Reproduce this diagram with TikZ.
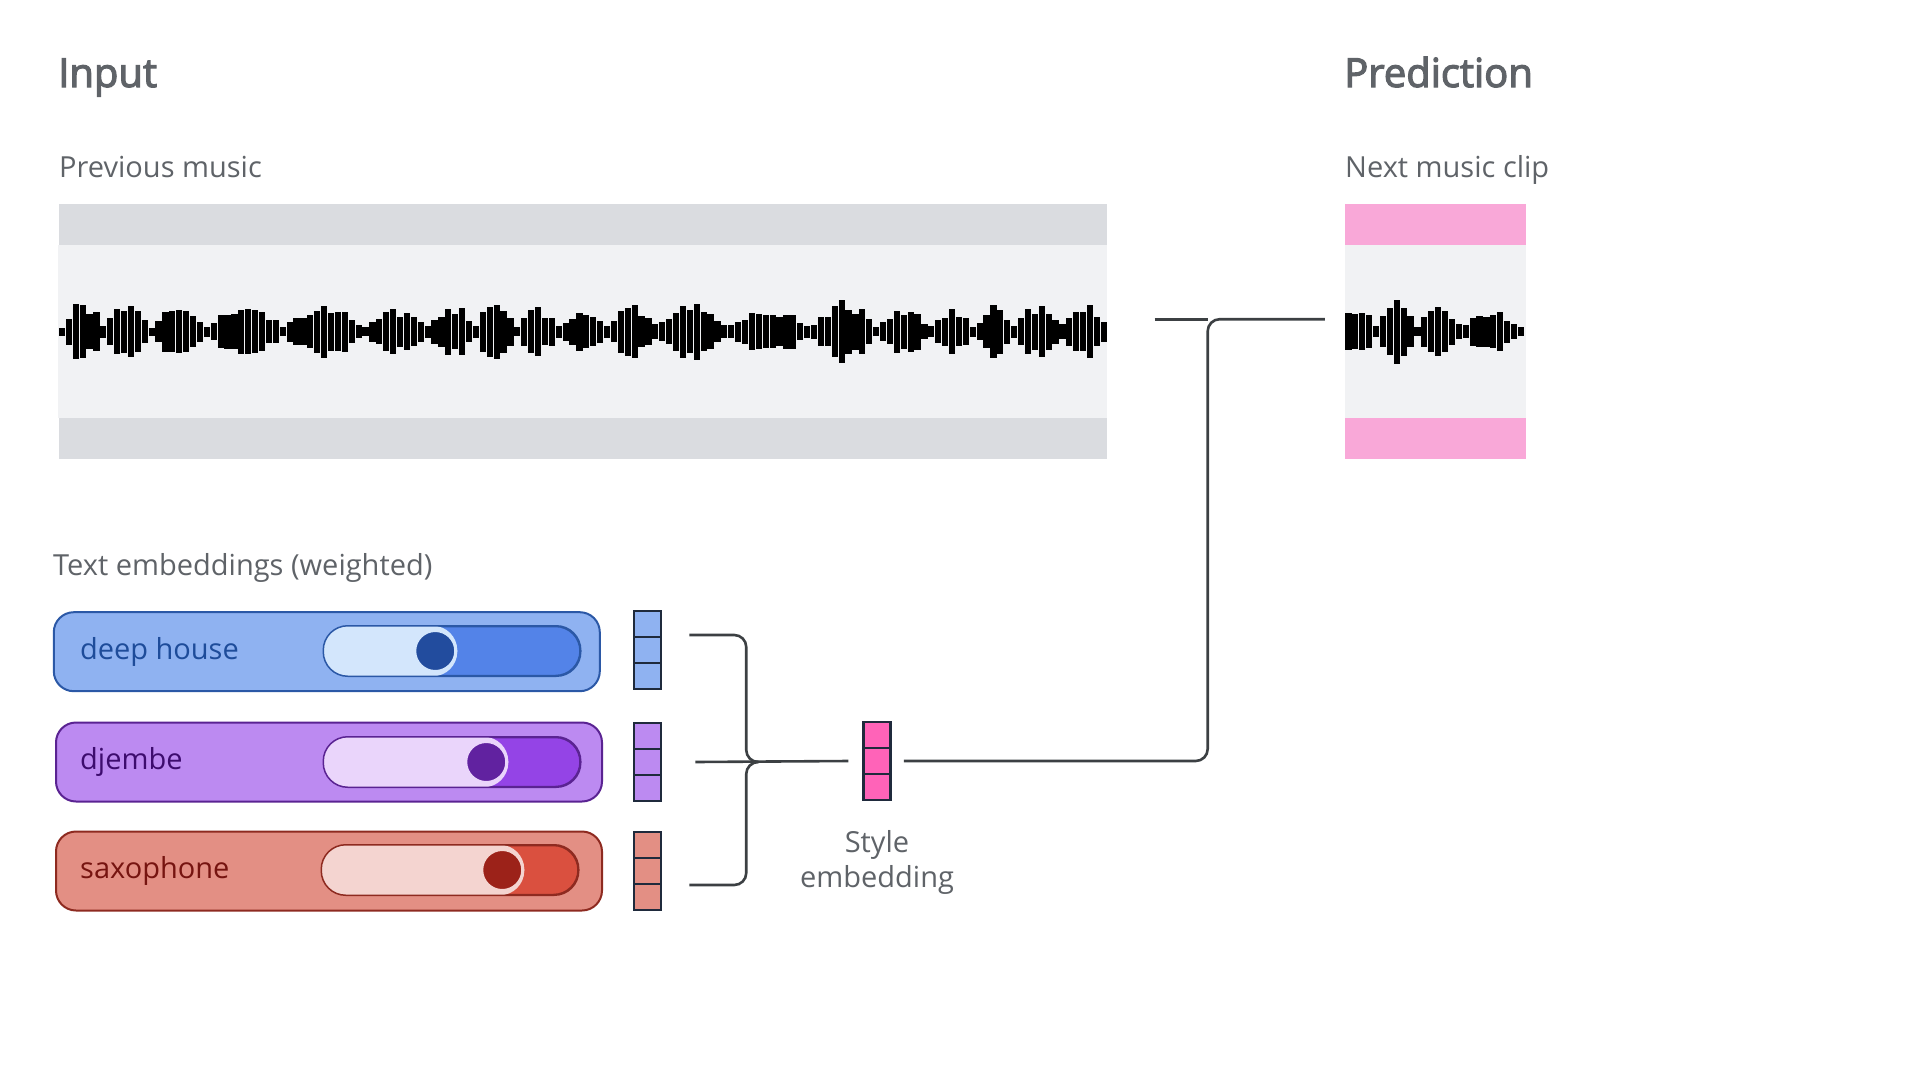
\documentclass[tikz,border=0pt]{standalone}
\usepackage{fontspec}
\setmainfont{Open Sans}
\newfontfamily\headfont[FakeBold=3]{Open Sans}
\usetikzlibrary{calc,positioning}

\definecolor{txtgray}{HTML}{5F6368}
\definecolor{linegray}{HTML}{3C4043}
\definecolor{banddark}{HTML}{DADCE0}
\definecolor{bandlight}{HTML}{F1F2F4}
\definecolor{clippink}{HTML}{F9A8D8}
\definecolor{vecline}{HTML}{1F2A3C}
\definecolor{stylepink}{HTML}{FF63B8}
% deep house
\definecolor{dhfill}{HTML}{8FB2F1}
\definecolor{dhline}{HTML}{2B58A6}
\definecolor{dhlight}{HTML}{D3E6FC}
\definecolor{dhdark}{HTML}{5383E8}
\definecolor{dhknob}{HTML}{224C9E}
\definecolor{dhtext}{HTML}{1E4C9A}
% djembe
\definecolor{djfill}{HTML}{BC8AF1}
\definecolor{djline}{HTML}{5A2392}
\definecolor{djlight}{HTML}{EAD5FB}
\definecolor{djdark}{HTML}{9444E6}
\definecolor{djknob}{HTML}{6122A0}
\definecolor{djtext}{HTML}{3D0C6E}
% saxophone
\definecolor{sxfill}{HTML}{E38F84}
\definecolor{sxline}{HTML}{8E2A20}
\definecolor{sxlight}{HTML}{F4D4D0}
\definecolor{sxdark}{HTML}{DA503F}
\definecolor{sxknob}{HTML}{9C2219}
\definecolor{sxtext}{HTML}{761410}

\begin{document}
\begin{tikzpicture}[x=1pt,y=-1pt,
  heading/.style={anchor=base west,inner sep=0,text=txtgray,font=\headfont\fontsize{40}{48}\selectfont},
  caption/.style={anchor=base west,inner sep=0,text=txtgray,font=\fontsize{29}{35}\selectfont},
  clipbox/.style={minimum height=255,inner sep=0,fill=banddark},
  tagbox/.style={rounded corners=20,line width=2,minimum width=546,minimum height=79,inner sep=0},
  taglabel/.style={anchor=west,inner sep=0,font=\fontsize{29}{35}\selectfont},
  track/.style={rounded corners=24.5,line width=1.5,minimum width=256,minimum height=49,inner sep=0},
  knob/.style={circle,line width=3,minimum size=41,inner sep=0},
  vecbox/.style={draw=vecline,line width=2.5,minimum width=27,minimum height=78,inner sep=0,
    path picture={
      \draw[vecline,line width=2.5] ($(path picture bounding box.north west)!1/3!(path picture bounding box.south west)$) -- ($(path picture bounding box.north east)!1/3!(path picture bounding box.south east)$);
      \draw[vecline,line width=2.5] ($(path picture bounding box.north west)!2/3!(path picture bounding box.south west)$) -- ($(path picture bounding box.north east)!2/3!(path picture bounding box.south east)$);}},
  link/.style={draw=linegray,line width=2.6,rounded corners=12}]

  \useasboundingbox (0,0) rectangle (1919,1079);

  % Headings
  \node[heading] (input) at (58,87) {Input};
  \node[heading] (predict) at (1344,87) {Prediction};
  \node[caption] (prevlbl) at (59,177) {Previous music};
  \node[caption] (nextlbl) at (1345,177) {Next music clip};

  % Previous music
  \node[clipbox,minimum width=1048] (prev) at (582.5,331.7) {};
  \fill[bandlight] ($(prev.north west)+(0,41)$) rectangle ($(prev.south east)+(0,-41)$);
  \pgfmathsetseed{23}
  \foreach \i in {0,...,151}{
    \pgfmathsetmacro\env{abs(sin(\i*22+80*sin(\i*5.3)))*(0.85+0.15*sin(\i*13+30))}
    \pgfmathsetmacro\amp{3.8+29*\env*(0.5+0.5*rnd)}
    \fill ($(prev.west)+(0.5+6.9*\i,-\amp)$) rectangle ++(6.2,2*\amp);
  }

  % Next music clip
  \node[clipbox,minimum width=181,fill=clippink] (next) at (1435.5,331.7) {};
  \fill[bandlight] ($(next.north west)+(0,41)$) rectangle ($(next.south east)+(0,-41)$);
  \pgfmathsetseed{7}
  \foreach \i in {0,...,25}{
    \pgfmathsetmacro\env{abs(sin(\i*26+40+70*sin(\i*6.1)))*(0.85+0.15*sin(\i*11))}
    \pgfmathsetmacro\amp{3.8+29*\env*(0.5+0.5*rnd)}
    \fill ($(next.west)+(0.5+6.9*\i,-\amp)$) rectangle ++(6.2,2*\amp);
  }

  % Text embeddings
  \node[caption] (textlbl) at (53,575) {Text embeddings (weighted)};

  % deep house
  \node[tagbox,fill=dhfill,draw=dhline] (house) at (326.8,651.7) {};
  \node[taglabel,text=dhtext] (houselbl) at ($(house.west)+(27,0)$) {deep house};
  \node[track,fill=dhdark,draw=dhline] (housetrack) at (452,651) {};
  \fill[dhlight,rounded corners=24.5] (housetrack.north west) rectangle ($(housetrack.south west)+(134,0)$);
  \draw[dhline,line width=1.5,rounded corners=24.5] (housetrack.north west) rectangle (housetrack.south east);
  \node[knob,fill=dhknob,draw=dhlight] (houseknob) at ($(housetrack.west)+(112,0)$) {};

  % djembe
  \node[tagbox,fill=djfill,draw=djline] (drum) at (329,762) {};
  \node[taglabel,text=djtext] (drumlbl) at ($(drum.west)+(25,0)$) {djembe};
  \node[track,fill=djdark,draw=djline] (drumtrack) at (452,762) {};
  \fill[djlight,rounded corners=24.5] (drumtrack.north west) rectangle ($(drumtrack.south west)+(185,0)$);
  \draw[djline,line width=1.5,rounded corners=24.5] (drumtrack.north west) rectangle (drumtrack.south east);
  \node[knob,fill=djknob,draw=djlight] (drumknob) at ($(drumtrack.west)+(163,0)$) {};

  % saxophone
  \node[tagbox,fill=sxfill,draw=sxline] (sax) at (329,871) {};
  \node[taglabel,text=sxtext] (saxlbl) at ($(sax.west)+(25,0)$) {saxophone};
  \node[track,fill=sxdark,draw=sxline] (saxtrack) at (450,870) {};
  \fill[sxlight,rounded corners=24.5] (saxtrack.north west) rectangle ($(saxtrack.south west)+(203,0)$);
  \draw[sxline,line width=1.5,rounded corners=24.5] (saxtrack.north west) rectangle (saxtrack.south east);
  \node[knob,fill=sxknob,draw=sxlight] (saxknob) at ($(saxtrack.west)+(181,0)$) {};

  % Embedding vectors
  \node[vecbox,fill=dhfill] (housevec) at (647.5,650) {};
  \node[vecbox,fill=djfill] (drumvec) at (647.5,762) {};
  \node[vecbox,fill=sxfill] (saxvec) at (647.5,871) {};
  \node[vecbox,fill=stylepink] (stylevec) at (877,761) {};
  \node[caption,anchor=north,align=center] (stylelbl) [below=29pt of stylevec] {Style\\embedding};

  % Combine
  \coordinate (fork) at ($(drumvec.east)+(96,0)$);
  \draw[link] ($(housevec.east)+(27,-15)$) -| ($(fork)+(-12,0)$) -- (fork);
  \draw[link] ($(saxvec.east)+(27,14)$) -| ($(fork)+(-12,0)$) -- (fork);
  \draw[link] ($(drumvec.east)+(33,0)$) -- ($(stylevec.west)+(-14,0)$);

  % To prediction
  \draw[link] ($(prev.east)+(48,-12.5)$) -- ($(prev.east)+(101,-12.5)$);
  \draw[link] ($(stylevec.east)+(12,0)$) -| ($(prev.east)+(101,-12.5)$) -- ($(next.west)+(-20,-12.5)$);

\end{tikzpicture}
\end{document}
